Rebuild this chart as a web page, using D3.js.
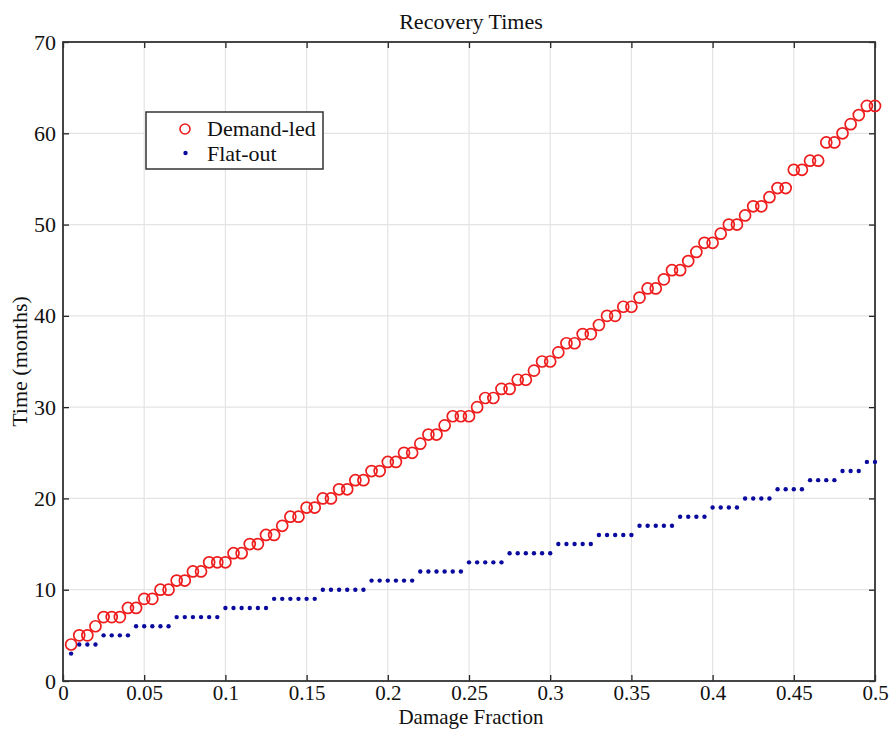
<!DOCTYPE html>
<html>
<head>
<meta charset="utf-8">
<script src="https://cdn.jsdelivr.net/npm/d3@7"></script>
<style>
  html, body { margin: 0; padding: 0; background: #fff; }
  svg { display: block; }
  text { font-family: "Liberation Serif", "Times New Roman", serif; fill: #111; }
</style>
</head>
<body>
<svg id="chart" width="889" height="730"></svg>
<script>
// ---- Data ----
const damageFraction = [
  0.005,0.010,0.015,0.020,0.025,0.030,0.035,0.040,0.045,0.050,
  0.055,0.060,0.065,0.070,0.075,0.080,0.085,0.090,0.095,0.100,
  0.105,0.110,0.115,0.120,0.125,0.130,0.135,0.140,0.145,0.150,
  0.155,0.160,0.165,0.170,0.175,0.180,0.185,0.190,0.195,0.200,
  0.205,0.210,0.215,0.220,0.225,0.230,0.235,0.240,0.245,0.250,
  0.255,0.260,0.265,0.270,0.275,0.280,0.285,0.290,0.295,0.300,
  0.305,0.310,0.315,0.320,0.325,0.330,0.335,0.340,0.345,0.350,
  0.355,0.360,0.365,0.370,0.375,0.380,0.385,0.390,0.395,0.400,
  0.405,0.410,0.415,0.420,0.425,0.430,0.435,0.440,0.445,0.450,
  0.455,0.460,0.465,0.470,0.475,0.480,0.485,0.490,0.495,0.500
];
const demandLed = [
  4,5,5,6,7,7,7,8,8,9,
  9,10,10,11,11,12,12,13,13,13,
  14,14,15,15,16,16,17,18,18,19,
  19,20,20,21,21,22,22,23,23,24,
  24,25,25,26,27,27,28,29,29,29,
  30,31,31,32,32,33,33,34,35,35,
  36,37,37,38,38,39,40,40,41,41,
  42,43,43,44,45,45,46,47,48,48,
  49,50,50,51,52,52,53,54,54,56,
  56,57,57,59,59,60,61,62,63,63
];
const flatOut = [
  3,4,4,4,5,5,5,5,6,6,
  6,6,6,7,7,7,7,7,7,8,
  8,8,8,8,8,9,9,9,9,9,
  9,10,10,10,10,10,10,11,11,11,
  11,11,11,12,12,12,12,12,12,13,
  13,13,13,13,14,14,14,14,14,14,
  15,15,15,15,15,16,16,16,16,16,
  17,17,17,17,17,18,18,18,18,19,
  19,19,19,20,20,20,20,21,21,21,
  21,22,22,22,22,23,23,23,24,24
];
const xTicks = [0,0.05,0.1,0.15,0.2,0.25,0.3,0.35,0.4,0.45,0.5];
const yTicks = [0,10,20,30,40,50,60,70];
const seriesNames = ["Demand-led","Flat-out"];
const titleText = "Recovery Times";
const xLabel = "Damage Fraction";
const yLabel = "Time (months)";

// ---- Layout ----
const svg = d3.select("#chart");
const L = 63, R = 875, T = 42, B = 681;
const x = d3.scaleLinear().domain([0, 0.5]).range([L, R]);
const y = d3.scaleLinear().domain([0, 70]).range([B, T]);
const fmt = d => d === 0 ? "0" : String(d);

// grid
const grid = svg.append("g");
grid.selectAll("line.gx").data(xTicks).join("line")
  .attr("x1", d => x(d)).attr("x2", d => x(d)).attr("y1", T).attr("y2", B)
  .attr("stroke", "#e4e4e4").attr("stroke-width", 1.2);
grid.selectAll("line.gy").data(yTicks).join("line")
  .attr("y1", d => y(d)).attr("y2", d => y(d)).attr("x1", L).attr("x2", R)
  .attr("stroke", "#e4e4e4").attr("stroke-width", 1.2);

// axes (inward ticks on all sides)
const axB = svg.append("g").attr("transform", `translate(0,${B})`)
  .call(d3.axisBottom(x).tickValues(xTicks).tickFormat(fmt).tickSizeInner(-6).tickSizeOuter(0).tickPadding(0));
const axT = svg.append("g").attr("transform", `translate(0,${T})`)
  .call(d3.axisTop(x).tickValues(xTicks).tickFormat("").tickSizeInner(-6).tickSizeOuter(0));
const axLft = svg.append("g").attr("transform", `translate(${L},0)`)
  .call(d3.axisLeft(y).tickValues(yTicks).tickFormat(fmt).tickSizeInner(-6).tickSizeOuter(0).tickPadding(7));
const axRt = svg.append("g").attr("transform", `translate(${R},0)`)
  .call(d3.axisRight(y).tickValues(yTicks).tickFormat("").tickSizeInner(-6).tickSizeOuter(0));
[axB, axT, axLft, axRt].forEach(g => {
  g.select(".domain").remove();
  g.selectAll(".tick line").attr("stroke", "#222").attr("stroke-width", 1.3);
  g.selectAll(".tick text").attr("font-family", "'Liberation Serif', serif")
    .attr("font-size", 22).attr("fill", "#111");
});
axB.selectAll(".tick text").attr("font-size", 21).attr("y", 19).attr("dy", null);

// frame
svg.append("rect").attr("x", L).attr("y", T).attr("width", R - L).attr("height", B - T)
  .attr("fill", "none").attr("stroke", "#333").attr("stroke-width", 1.8);

// data
const demandData = damageFraction.map((d, i) => ({x: d, y: demandLed[i]}));
const flatData = damageFraction.map((d, i) => ({x: d, y: flatOut[i]}));

svg.append("g").selectAll("circle").data(demandData).join("circle")
  .attr("cx", d => x(d.x)).attr("cy", d => y(d.y)).attr("r", 5.5)
  .attr("fill", "none").attr("stroke", "#ee1c1c").attr("stroke-width", 1.7);

svg.append("g").selectAll("circle").data(flatData).join("circle")
  .attr("cx", d => x(d.x)).attr("cy", d => y(d.y)).attr("r", 2.2)
  .attr("fill", "#0a0a9e");

// title and labels
svg.append("text").attr("x", (L + R) / 2 + 2).attr("y", 29).attr("text-anchor", "middle")
  .attr("font-size", 22).text(titleText);
svg.append("text").attr("x", (L + R) / 2 + 2).attr("y", 724).attr("text-anchor", "middle")
  .attr("font-size", 21).text(xLabel);
svg.append("text").attr("transform", `translate(27,${(T + B) / 2}) rotate(-90)`)
  .attr("text-anchor", "middle").attr("font-size", 22).text(yLabel);

// legend
const lg = svg.append("g");
lg.append("rect").attr("x", 146).attr("y", 112).attr("width", 177).attr("height", 57)
  .attr("fill", "#fff").attr("stroke", "#333").attr("stroke-width", 1.5);
lg.append("circle").attr("cx", 185).attr("cy", 129).attr("r", 5)
  .attr("fill", "none").attr("stroke", "#ee1c1c").attr("stroke-width", 1.6);
lg.append("circle").attr("cx", 185.5).attr("cy", 153).attr("r", 2.2).attr("fill", "#0a0a9e");
lg.append("text").attr("x", 207).attr("y", 136).attr("font-size", 22).text(seriesNames[0]);
lg.append("text").attr("x", 207).attr("y", 161).attr("font-size", 22).text(seriesNames[1]);
</script>
</body>
</html>
